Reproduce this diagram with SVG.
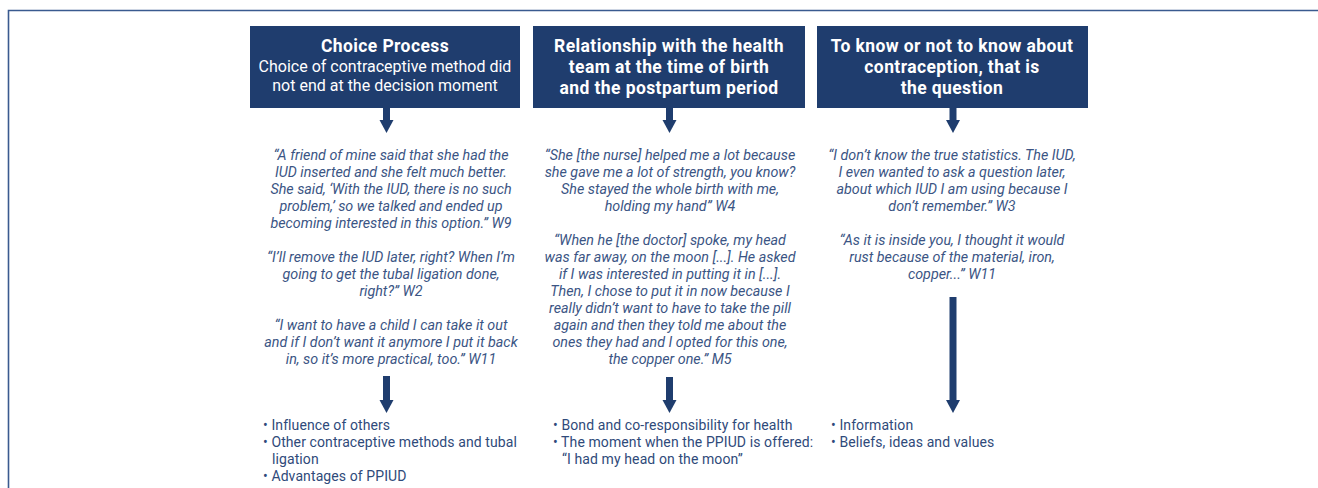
<svg xmlns="http://www.w3.org/2000/svg" width="1318" height="488" viewBox="0 0 1318 488">
<style>
.box{fill:#1f3d6e}
.th{font-family:Roboto,"Liberation Sans",sans-serif;font-size:17.5px;font-weight:bold;letter-spacing:0.4px;fill:#ffffff;text-anchor:middle}
.tr{font-family:Roboto,"Liberation Sans",sans-serif;font-size:16px;fill:#ffffff;text-anchor:middle}
.q{font-family:Roboto,"Liberation Sans",sans-serif;font-size:14.3px;font-style:italic;fill:#3b5584;text-anchor:middle}
.b{font-family:Roboto,"Liberation Sans",sans-serif;font-size:14px;letter-spacing:0.1px;fill:#2f4a7a}
.arr{stroke:#1f3d6e;stroke-width:7;fill:none}
.head{fill:#1f3d6e}
</style>
<rect width="1318" height="488" fill="#ffffff"/>
<path d="M8.5,488 V10.5 H1318" fill="none" stroke="#3a5a8f" stroke-width="1.6"/>

<g id="node-choice">
<rect class="box" x="250" y="26" width="270" height="82"/>
<text class="th" x="385" y="52">Choice Process</text>
<text class="tr" x="385" y="72">Choice of contraceptive method did</text>
<text class="tr" x="385" y="91">not end at the decision moment</text>
</g>
<g id="node-relationship">
<rect class="box" x="533" y="26" width="272" height="82"/>
<text class="th" x="669" y="52">Relationship with the health</text>
<text class="th" x="669" y="73">team at the time of birth</text>
<text class="th" x="669" y="94">and the postpartum period</text>
</g>
<g id="node-know">
<rect class="box" x="817" y="26" width="271" height="82"/>
<text class="th" x="952" y="52">To know or not to know about</text>
<text class="th" x="952" y="73">contraception, that is</text>
<text class="th" x="952" y="94">the question</text>
</g>

<g id="quotes-choice">
<text class="q" x="391" y="160">“A friend of mine said that she had the</text>
<text class="q" x="391" y="177">IUD inserted and she felt much better.</text>
<text class="q" x="391" y="194">She said, ‘With the IUD, there is no such</text>
<text class="q" x="391" y="211">problem,’ so we talked and ended up</text>
<text class="q" x="391" y="228">becoming interested in this option.” W9</text>
<text class="q" x="391" y="262">“I’ll remove the IUD later, right? When I’m</text>
<text class="q" x="391" y="279">going to get the tubal ligation done,</text>
<text class="q" x="391" y="296">right?” W2</text>
<text class="q" x="391" y="330">“I want to have a child I can take it out</text>
<text class="q" x="391" y="347">and if I don’t want it anymore I put it back</text>
<text class="q" x="391" y="364">in, so it’s more practical, too.” W11</text>
</g>
<g id="quotes-relationship">
<text class="q" x="670" y="160">“She [the nurse] helped me a lot because</text>
<text class="q" x="670" y="177">she gave me a lot of strength, you know?</text>
<text class="q" x="670" y="194">She stayed the whole birth with me,</text>
<text class="q" x="670" y="211">holding my hand” W4</text>
<text class="q" x="670" y="245">“When he [the doctor] spoke, my head</text>
<text class="q" x="670" y="262">was far away, on the moon [...]. He asked</text>
<text class="q" x="670" y="279">if I was interested in putting it in [...].</text>
<text class="q" x="670" y="296">Then, I chose to put it in now because I</text>
<text class="q" x="670" y="313">really didn’t want to have to take the pill</text>
<text class="q" x="670" y="330">again and then they told me about the</text>
<text class="q" x="670" y="347">ones they had and I opted for this one,</text>
<text class="q" x="670" y="364">the copper one.” M5</text>
</g>
<g id="quotes-know">
<text class="q" x="952" y="160">“I don’t know the true statistics. The IUD,</text>
<text class="q" x="952" y="177">I even wanted to ask a question later,</text>
<text class="q" x="952" y="194">about which IUD I am using because I</text>
<text class="q" x="952" y="211">don’t remember.” W3</text>
<text class="q" x="952" y="245">“As it is inside you, I thought it would</text>
<text class="q" x="952" y="262">rust because of the material, iron,</text>
<text class="q" x="952" y="279">copper...” W11</text>
</g>

<g id="connectors">
<line class="arr" x1="386.5" y1="108" x2="386.5" y2="121"/>
<polygon class="head" points="379.5,120 393.5,120 386.5,133"/>
<line class="arr" x1="669.5" y1="108" x2="669.5" y2="121"/>
<polygon class="head" points="662.5,120 676.5,120 669.5,133"/>
<line class="arr" x1="953" y1="108" x2="953" y2="121"/>
<polygon class="head" points="946,120 960,120 953,133"/>
<line class="arr" x1="386.5" y1="376" x2="386.5" y2="401"/>
<polygon class="head" points="379.5,400 393.5,400 386.5,413"/>
<line class="arr" x1="669.5" y1="377" x2="669.5" y2="401"/>
<polygon class="head" points="662.5,400 676.5,400 669.5,413"/>
<line class="arr" x1="953" y1="297" x2="953" y2="401"/>
<polygon class="head" points="946,400 960,400 953,413"/>
</g>

<g id="themes-choice">
<text class="b" x="263" y="430">• Influence of others</text>
<text class="b" x="263" y="447">• Other contraceptive methods and tubal</text>
<text class="b" x="272" y="464">ligation</text>
<text class="b" x="263" y="481">• Advantages of  PPIUD</text>
</g>
<g id="themes-relationship">
<text class="b" x="553" y="430">• Bond and co-responsibility for health</text>
<text class="b" x="553" y="447">• The moment when the PPIUD is offered:</text>
<text class="b" x="562" y="464">“I had my head on the moon”</text>
</g>
<g id="themes-know">
<text class="b" x="831" y="430">• Information</text>
<text class="b" x="831" y="447">• Beliefs, ideas and values</text>
</g>
</svg>
